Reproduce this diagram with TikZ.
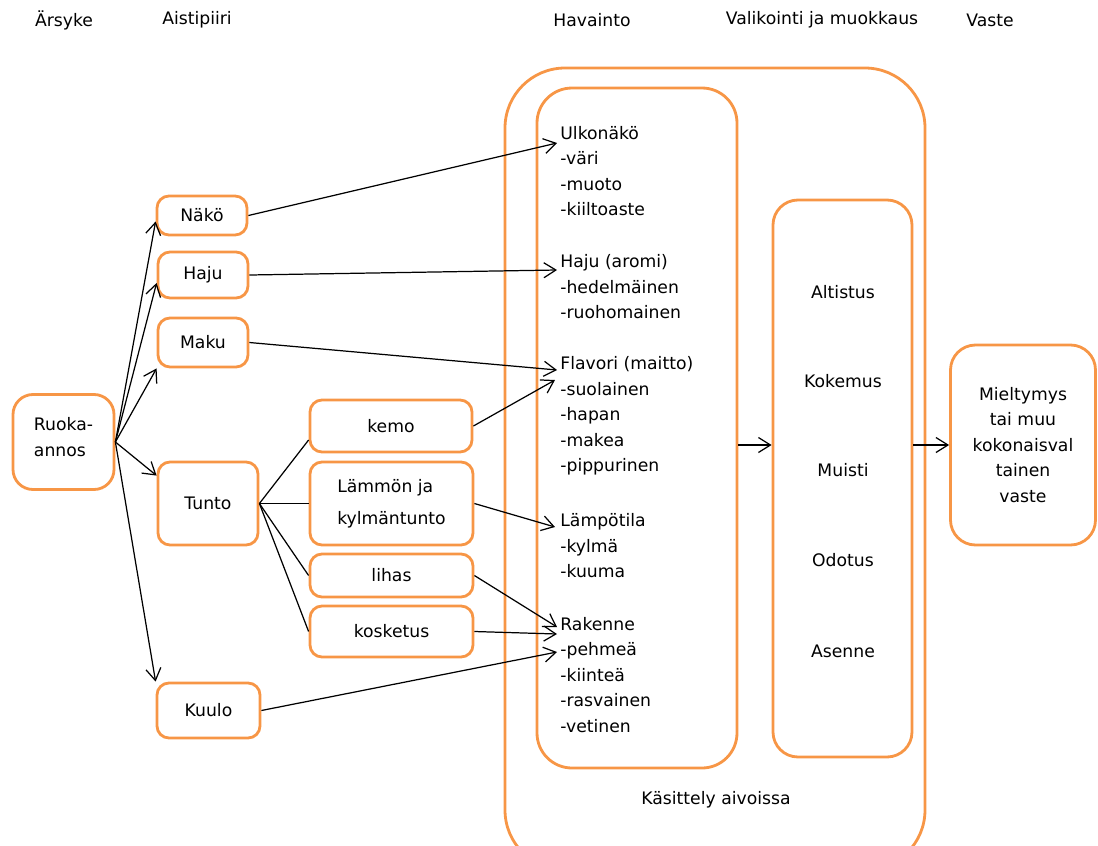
\documentclass[tikz,border=0pt]{standalone}
\usepackage{fontspec}
\setmainfont{DejaVu Sans}
\usetikzlibrary{arrows.meta}
\definecolor{boxorange}{HTML}{F79646}

\begin{document}
\begin{tikzpicture}[x=0.2mm, y=-0.2mm,
    font=\fontsize{9.8}{14.5}\selectfont,
    box/.style n args={3}{draw=boxorange, line width=1.6pt, rounded corners=#3,
      minimum width=#1*0.2mm, minimum height=#2*0.2mm, inner sep=0pt},
    txt/.style={inner sep=0pt, align=left, anchor=west},
    arr/.style={-{Straight Barb[length=2.4mm,width=3mm]}, line width=0.7pt},
    link/.style={line width=0.7pt}]
    \clip (0,0) rectangle (1098,845);

    % otsikot
    \node (hArsyke) at (64,20) {Ärsyke};
    \node (hAisti) at (197,20) {Aistipiiri};
    \node (hHavainto) at (592,20) {Havainto};
    \node (hValikointi) at (822,20) {Valikointi ja muokkaus};
    \node (hVaste) at (990,20) {Vaste};

    % aivot
    \node[box={420}{802}{12mm}] (aivot) at (715,469) {};
    \node (kasittely) at (716,800) {Käsittely aivoissa};
    \node[box={200}{680}{7mm}] (havainto) at (637,428) {};
    \node[box={139}{557}{5mm}] (valikointi) at (842.5,478.5) {};
    \node[box={145}{200}{5mm}, align=center] (vaste) at (1023,445)
        {Mieltymys\\tai muu\\kokonaisval\\tainen\\vaste};

    % havainnot
    \node[txt] (ulko) at (560,171) {Ulkonäkö\\-väri\\-muoto\\-kiiltoaste};
    \node[txt] (aromi) at (560,287) {Haju (aromi)\\-hedelmäinen\\-ruohomainen};
    \node[txt] (flavori) at (560,416) {Flavori (maitto)\\-suolainen\\-hapan\\-makea\\-pippurinen};
    \node[txt] (lampo) at (560,546) {Lämpötila\\-kylmä\\-kuuma};
    \node[txt] (rakenne) at (560,675) {Rakenne\\-pehmeä\\-kiinteä\\-rasvainen\\-vetinen};

    % valikointi
    \node (altistus) at (843,292) {Altistus};
    \node (kokemus) at (843,381) {Kokemus};
    \node (muisti) at (843,470) {Muisti};
    \node (odotus) at (843,560) {Odotus};
    \node (asenne) at (843,651) {Asenne};

    % aistipiirit
    \node[box={101}{95}{4mm}, align=left] (ruoka) at (63.5,442) {Ruoka-\\annos\\[-3.1mm]};
    \node[box={90}{39}{2.4mm}] (nako) at (202,215.5) {Näkö};
    \node[box={90}{46}{2.4mm}] (haju) at (203,275) {Haju};
    \node[box={90}{49}{2.4mm}] (maku) at (203,342.5) {Maku};
    \node[box={100}{83}{2.4mm}] (tunto) at (208,503.5) {Tunto};
    \node[box={103}{55}{2.4mm}] (kuulo) at (208.5,710.5) {Kuulo};
    \node[box={162}{52}{2.4mm}] (kemo) at (391,426) {kemo};
    \node[box={163}{83}{2.4mm}, align=left] (lammon) at (391.5,503.5) {Lämmön ja\\[1.2mm]kylmäntunto};
    \node[box={163}{43}{2.4mm}] (lihas) at (391.5,575.5) {lihas};
    \node[box={163}{51}{2.4mm}] (kosketus) at (391.5,631.5) {kosketus};

    % tulokohdat
    \coordinate (inUlko) at (557,143);
    \coordinate (inAromi) at (557,270);
    \coordinate (inFlavoriA) at (557,370);
    \coordinate (inFlavoriB) at (555,380);
    \coordinate (inLampo) at (555,527);
    \coordinate (inRakenneA) at (557,627);
    \coordinate (inRakenneB) at (557,634);
    \coordinate (inRakenneC) at (557,652);

    % nuolet
    \draw[arr] (ruoka.east) -- ([yshift=-1.2mm]nako.west);
    \draw[arr] (ruoka.east) -- ([yshift=-1.6mm]haju.west);
    \draw[arr] (ruoka.east) -- (maku.south west);
    \draw[arr] (ruoka.east) -- ([yshift=-3mm]tunto.north west);
    \draw[arr] (ruoka.east) -- (kuulo.north west);
    \draw[link] (tunto.east) -- ([yshift=-2.8mm]kemo.west);
    \draw[link] (tunto.east) -- (lammon.west);
    \draw[link] (tunto.east) -- (lihas.west);
    \draw[link] (tunto.east) -- (kosketus.west);
    \draw[arr] (nako.east) -- (inUlko);
    \draw[arr] (haju.east) -- (inAromi);
    \draw[arr] (maku.east) -- (inFlavoriA);
    \draw[arr] (kemo.east) -- (inFlavoriB);
    \draw[arr] (lammon.east) -- (inLampo);
    \draw[arr] (lihas.east) -- (inRakenneA);
    \draw[arr] (kosketus.east) -- (inRakenneB);
    \draw[arr] (kuulo.east) -- (inRakenneC);
    \draw[arr] (havainto.east |- vaste.west) -- (valikointi.west |- vaste.west);
    \draw[arr] (valikointi.east |- vaste.west) -- (vaste.west);
\end{tikzpicture}
\end{document}
